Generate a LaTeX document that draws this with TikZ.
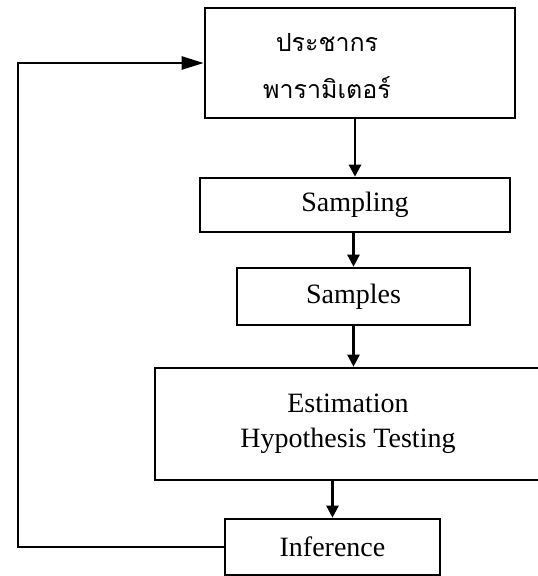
\documentclass[tikz,border=0pt]{standalone}
\usepackage{fontspec}
\setmainfont{Liberation Serif}
\newfontfamily\thaifont[Script=Thai]{Loma}
\usetikzlibrary{arrows.meta}

\begin{document}
\begin{tikzpicture}[x=1pt,y=-1pt,
  box/.style={draw=black, line width=2.6pt, inner sep=0pt, align=center, font=\fontsize{28}{35}\selectfont},
  thai/.style={align=center, inner sep=0pt, font=\thaifont\fontsize{25}{47}\selectfont},
  flow/.style={line width=2.4pt, -{Triangle[length=12pt,width=12pt]}},
  back/.style={line width=2.4pt, -{Triangle[length=22pt,width=13pt]}}]
\useasboundingbox (0,0) rectangle (538,576);
\node[box, minimum width=310pt, minimum height=110pt] (pop) at (360,63) {};
\node[thai] (poptxt) at ([xshift=-33pt,yshift=-3pt]pop.center) {ประชากร\\พารามิเตอร์};
\node[box, minimum width=310pt, minimum height=54pt] (samp) at (355,205) {Sampling};
\node[box, minimum width=233pt, minimum height=57pt] (smpl) at (353.5,296.5) {Samples};
\node[box, minimum width=386pt, minimum height=112pt] (est) at (348,424) {Estimation\\Hypothesis Testing};
\node[box, minimum width=215pt, minimum height=56pt] (inf) at (332.5,547) {Inference};
\coordinate (turn) at (18,547);
% flow downwards
\draw[flow] (samp.north |- pop.south) -- (samp.north);
\draw[flow] (smpl.north |- samp.south) -- (smpl.north);
\draw[flow] (smpl.south) -- (smpl.south |- est.north);
\draw[flow] (inf.north |- est.south) -- (inf.north);
% feedback loop
\draw[back] (inf.west) -- (turn) |- (pop.west);
\end{tikzpicture}
\end{document}
